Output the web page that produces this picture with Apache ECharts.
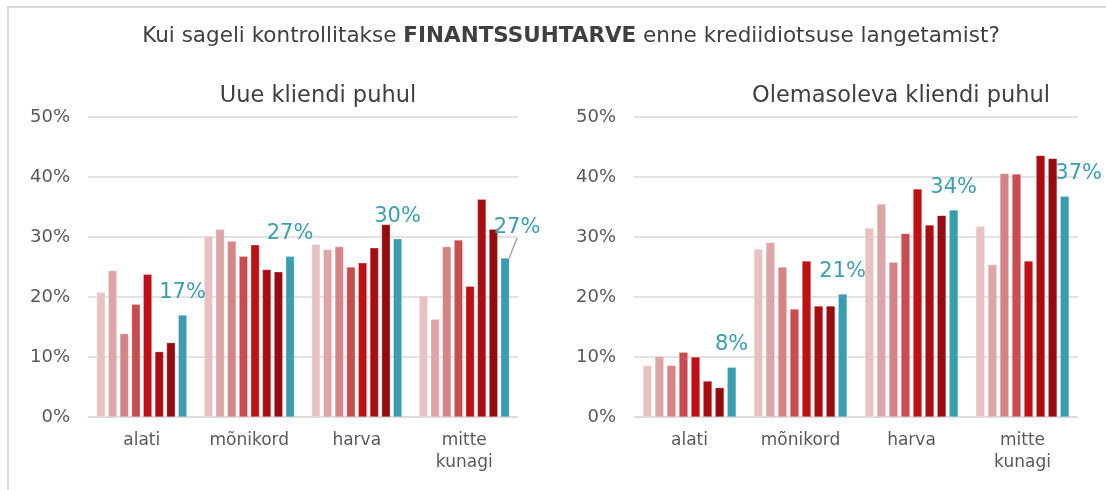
<!DOCTYPE html>
<html><head><meta charset="utf-8">
<script src="https://cdn.jsdelivr.net/npm/echarts@6/dist/echarts.min.js"></script>
<style>html,body{margin:0;padding:0;background:#fff}#c{width:1106px;height:490px}</style>
</head><body><div id="c"></div>
<script>
const categories = ['alati', 'mõnikord', 'harva', 'mitte\nkunagi'];
const yTicks = ['0%', '10%', '20%', '30%', '40%', '50%'];
// Uue kliendi puhul (new client), 8 series per category
const newClient = [
  [20.8, 30.1, 28.8, 20.2],
  [24.4, 31.3, 27.9, 16.3],
  [13.9, 29.3, 28.4, 28.4],
  [18.8, 26.8, 25.0, 29.5],
  [23.8, 28.7, 25.7, 21.8],
  [10.9, 24.6, 28.2, 36.3],
  [12.4, 24.2, 32.1, 31.3],
  [17.0, 26.8, 29.7, 26.5]
];
// Olemasoleva kliendi puhul (existing client)
const existingClient = [
  [8.6, 28.0, 31.5, 31.8],
  [10.1, 29.1, 35.5, 25.4],
  [8.6, 25.0, 25.8, 40.6],
  [10.8, 18.0, 30.6, 40.5],
  [10.0, 26.0, 38.0, 26.0],
  [6.0, 18.5, 32.0, 43.6],
  [4.9, 18.5, 33.6, 43.1],
  [8.3, 20.5, 34.5, 36.8]
];
const newLabels = ['17%', '27%', '30%', '27%'];
const existingLabels = ['8%', '21%', '34%', '37%'];
const colors = ['#E8C2C3', '#DEA5A6', '#D58385', '#C94D50', '#BF1016', '#A90D11', '#970A0F', '#3A9EB0'];

const FONT = 'DejaVu Sans';
const chart = echarts.init(document.getElementById('c'));

function makeSeries(data, labels, idx, shifts, lineIdx) {
  return data.map((vals, i) => {
    const last = i === data.length - 1;
    const s = {
      type: 'bar', name: 'S' + (i + 1), xAxisIndex: idx, yAxisIndex: idx,
      barGap: '35%', barCategoryGap: '16%',
      itemStyle: { color: colors[i], borderColor: 'rgba(255,255,255,0.5)', borderWidth: 0.5 },
      data: vals.slice(),
      silent: true
    };
    if (last) {
      s.data = vals.map((v, j) => j === lineIdx ? { value: v, labelLine: { show: true } } : v);
      s.label = {
        show: true, position: 'top', distance: 12,
        formatter: p => labels[p.dataIndex],
        color: '#3A9EB0', fontSize: 21, fontFamily: FONT
      };
      s.labelLine = { show: false, lineStyle: { color: '#A6A6A6', width: 1.5 } };
      s.labelLayout = p => {
        const sh = shifts[p.dataIndex];
        return sh ? { dx: sh[0], dy: sh[1] } : {};
      };
    }
    return s;
  });
}

const axisLabelY = { color: '#595959', fontSize: 18, fontFamily: FONT, formatter: v => yTicks[Math.round(v / 10)] };

chart.setOption({
  animation: false,
  graphic: [{ type: 'rect', shape: { x: 8, y: 7, width: 1200, height: 600 }, style: { fill: 'none', stroke: '#D9D9D9', lineWidth: 2 }, silent: true }],
  title: [
    { text: '{n|Kui sageli kontrollitakse }{b|FINANTSSUHTARVE}{n| enne krediidiotsuse langetamist?}', left: 566, top: 20, textAlign: 'center',
      textStyle: { fontWeight: 'normal', fontSize: 21.5, fontFamily: FONT, color: '#404040',
        rich: { n: { fontSize: 21.5, fontFamily: FONT, color: '#404040', fontWeight: 'normal' }, b: { fontSize: 21.5, fontFamily: FONT, color: '#404040', fontWeight: 'bold' } } } },
    { text: 'Uue kliendi puhul', left: 313, top: 80, textAlign: 'center', textStyle: { fontSize: 22.5, fontFamily: FONT, fontWeight: 'normal', color: '#404040' } },
    { text: 'Olemasoleva kliendi puhul', left: 896, top: 80, textAlign: 'center', textStyle: { fontSize: 22.5, fontFamily: FONT, fontWeight: 'normal', color: '#404040' } }
  ],
  grid: [
    { left: 88, right: 588, top: 117, bottom: 73 },
    { left: 634, right: 28, top: 117, bottom: 73 }
  ],
  xAxis: [0, 1].map(i => ({
    type: 'category', gridIndex: i, data: categories,
    axisLine: { lineStyle: { color: '#D9D9D9', width: 1.5 } }, axisTick: { show: false },
    axisLabel: { color: '#595959', fontSize: 17, fontFamily: FONT, margin: 13, lineHeight: 22 }
  })),
  yAxis: [0, 1].map(i => ({
    type: 'value', gridIndex: i, min: 0, max: 50, interval: 10,
    axisLine: { show: false }, axisTick: { show: false },
    splitLine: { lineStyle: { color: '#D9D9D9', width: 1.5 } },
    axisLabel: Object.assign({ margin: 18 }, axisLabelY)
  })),
  series: makeSeries(newClient, newLabels, 0, { 3: [12, -8] }, 3)
    .concat(makeSeries(existingClient, existingLabels, 1, { 3: [14, 0] }, -1))
});
</script></body></html>
